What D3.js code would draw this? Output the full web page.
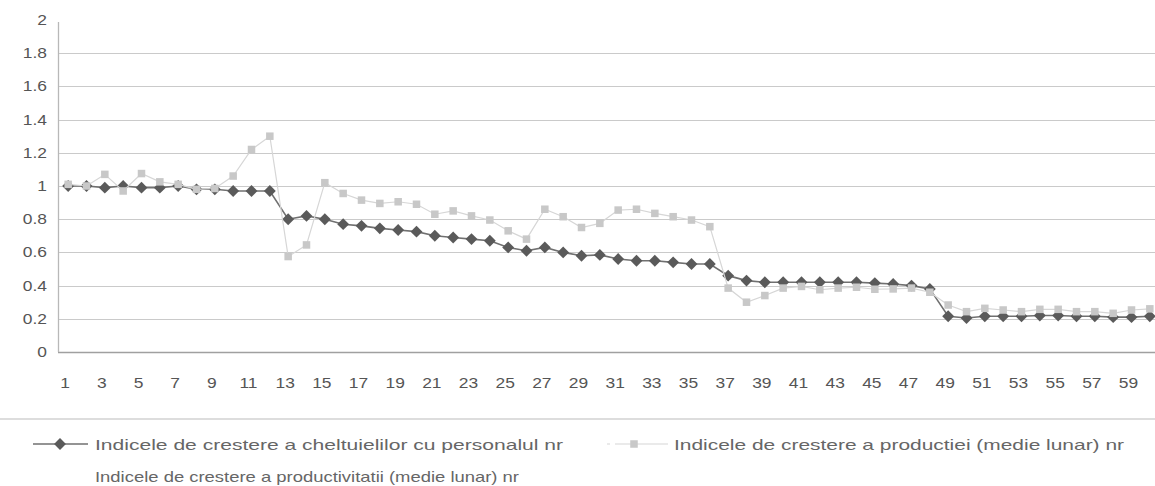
<!DOCTYPE html>
<html>
<head>
<meta charset="utf-8">
<script src="https://cdn.jsdelivr.net/npm/d3@7"></script>
<style>
  html, body { margin: 0; padding: 0; background: #fff; }
  svg { display: block; }
</style>
</head>
<body>
<svg id="chart" width="1155" height="486"></svg>
<script>
const categories = [1,2,3,4,5,6,7,8,9,10,11,12,13,14,15,16,17,18,19,20,21,22,23,24,25,26,27,28,29,30,
  31,32,33,34,35,36,37,38,39,40,41,42,43,44,45,46,47,48,49,50,51,52,53,54,55,56,57,58,59,60];

const personal = [1.00,1.00,0.99,1.00,0.99,0.99,1.00,0.98,0.98,0.97,0.97,0.97,
  0.80,0.82,0.80,0.77,0.76,0.745,0.735,0.725,0.70,0.69,0.68,0.67,
  0.63,0.61,0.63,0.60,0.58,0.585,0.56,0.55,0.55,0.54,0.53,0.53,
  0.46,0.43,0.42,0.42,0.42,0.42,0.42,0.42,0.415,0.41,0.40,0.38,
  0.215,0.205,0.215,0.215,0.215,0.22,0.22,0.215,0.215,0.21,0.21,0.215];

const productie = [1.01,1.00,1.07,0.97,1.075,1.025,1.01,0.98,0.985,1.06,1.22,1.30,
  0.575,0.645,1.02,0.955,0.915,0.895,0.905,0.89,0.83,0.85,0.82,0.795,
  0.73,0.68,0.86,0.815,0.75,0.775,0.855,0.86,0.835,0.815,0.795,0.755,
  0.385,0.30,0.34,0.385,0.395,0.375,0.385,0.39,0.378,0.38,0.385,0.36,
  0.283,0.243,0.263,0.253,0.243,0.257,0.257,0.243,0.243,0.233,0.253,0.26];

const yTicks = [0,0.2,0.4,0.6,0.8,1,1.2,1.4,1.6,1.8,2];
const yTickLabels = ["0","0.2","0.4","0.6","0.8","1","1.2","1.4","1.6","1.8","2"];
const xTickLabels = categories.filter(c => c % 2 === 1).map(String);

const legendNames = [
  "Indicele de crestere a cheltuielilor cu personalul  nr",
  "Indicele de crestere a productiei (medie lunar) nr",
  "Indicele de crestere a productivitatii (medie lunar)  nr"
];

const svg = d3.select("#chart");
const W = 1155;
const x = d3.scaleBand().domain(categories).range([59, 1159]);
const y = d3.scaleLinear().domain([0, 2]).range([352, 20]);
const cx = c => x(c) + x.bandwidth() / 2;
const font = "Liberation Sans, Arial, sans-serif";

// gridlines
svg.append("g").selectAll("line")
  .data(yTicks.filter(t => t > 0 && t < 2))
  .join("line")
  .attr("x1", 58).attr("x2", W)
  .attr("y1", d => Math.round(y(d)) + 0.5).attr("y2", d => Math.round(y(d)) + 0.5)
  .attr("stroke", "#cacaca").attr("stroke-width", 1.2);

// axes lines
svg.append("line").attr("x1", 58).attr("x2", W)
  .attr("y1", Math.round(y(0)) + 0.5).attr("y2", Math.round(y(0)) + 0.5)
  .attr("stroke", "#a0a0a0").attr("stroke-width", 1.3);
svg.append("line").attr("x1", 58.5).attr("x2", 58.5)
  .attr("y1", y(2) + 2).attr("y2", y(0))
  .attr("stroke", "#b8b8b8").attr("stroke-width", 1.3);

// y labels
svg.append("g").selectAll("text")
  .data(yTicks)
  .join("text")
  .attr("transform", d => `translate(47,${y(d)}) scale(1.2,1)`)
  .attr("text-anchor", "end")
  .attr("dominant-baseline", "central")
  .attr("font-family", font)
  .attr("font-size", 14.5)
  .attr("fill", "#555")
  .text((d, i) => yTickLabels[i]);

// x labels
svg.append("g").selectAll("text")
  .data(xTickLabels)
  .join("text")
  .attr("transform", d => `translate(${cx(+d) - 3},383) scale(1.2,1)`)
  .attr("text-anchor", "middle")
  .attr("dominant-baseline", "central")
  .attr("font-family", font)
  .attr("font-size", 14.5)
  .attr("fill", "#555")
  .text(d => d);

const line = d3.line().x((d, i) => cx(categories[i])).y(d => y(d));
const diamond = d3.symbol().type(d3.symbolDiamond2).size(90);
const square = d3.symbol().type(d3.symbolSquare2).size(72);

// series 1: personal
svg.append("path").datum(personal)
  .attr("d", line).attr("fill", "none")
  .attr("stroke", "#707070").attr("stroke-width", 1.6);
svg.append("g").selectAll("path")
  .data(personal)
  .join("path")
  .attr("transform", (d, i) => `translate(${cx(categories[i])},${y(d)})`)
  .attr("d", diamond)
  .attr("fill", "#5a5a5a");

// series 2: productie
svg.append("path").datum(productie)
  .attr("d", line).attr("fill", "none")
  .attr("stroke", "#d6d6d6").attr("stroke-width", 1.2);
svg.append("g").selectAll("path")
  .data(productie)
  .join("path")
  .attr("transform", (d, i) => `translate(${cx(categories[i])},${y(d)})`)
  .attr("d", square)
  .attr("fill", "#c8c8c8");

// legend separator
svg.append("line").attr("x1", 0).attr("x2", W)
  .attr("y1", 419).attr("y2", 419)
  .attr("stroke", "#d2d2d2").attr("stroke-width", 1.5);

// legend item 1
svg.append("line").attr("x1", 33).attr("x2", 88).attr("y1", 444).attr("y2", 444)
  .attr("stroke", "#707070").attr("stroke-width", 1.6);
svg.append("path").attr("transform", "translate(60,444)").attr("d", diamond).attr("fill", "#5a5a5a");
svg.append("text").attr("x", 95).attr("y", 444)
  .attr("dominant-baseline", "central")
  .attr("font-family", font).attr("font-size", 15).attr("fill", "#666")
  .attr("textLength", 468).attr("lengthAdjust", "spacingAndGlyphs")
  .text(legendNames[0]);

// legend item 2
svg.append("line").attr("x1", 607).attr("x2", 668).attr("y1", 444).attr("y2", 444)
  .attr("stroke", "#d6d6d6").attr("stroke-width", 1.2)
  .attr("stroke-dasharray", "3,5,60");
svg.append("path").attr("transform", "translate(634,444)").attr("d", square).attr("fill", "#c8c8c8");
svg.append("text").attr("x", 674).attr("y", 444)
  .attr("dominant-baseline", "central")
  .attr("font-family", font).attr("font-size", 15).attr("fill", "#666")
  .attr("textLength", 450).attr("lengthAdjust", "spacingAndGlyphs")
  .text(legendNames[1]);

// legend item 3 (no visible marker)
svg.append("text").attr("x", 95).attr("y", 476)
  .attr("dominant-baseline", "central")
  .attr("font-family", font).attr("font-size", 15).attr("fill", "#666")
  .attr("textLength", 424).attr("lengthAdjust", "spacingAndGlyphs")
  .text(legendNames[2]);
</script>
</body>
</html>
